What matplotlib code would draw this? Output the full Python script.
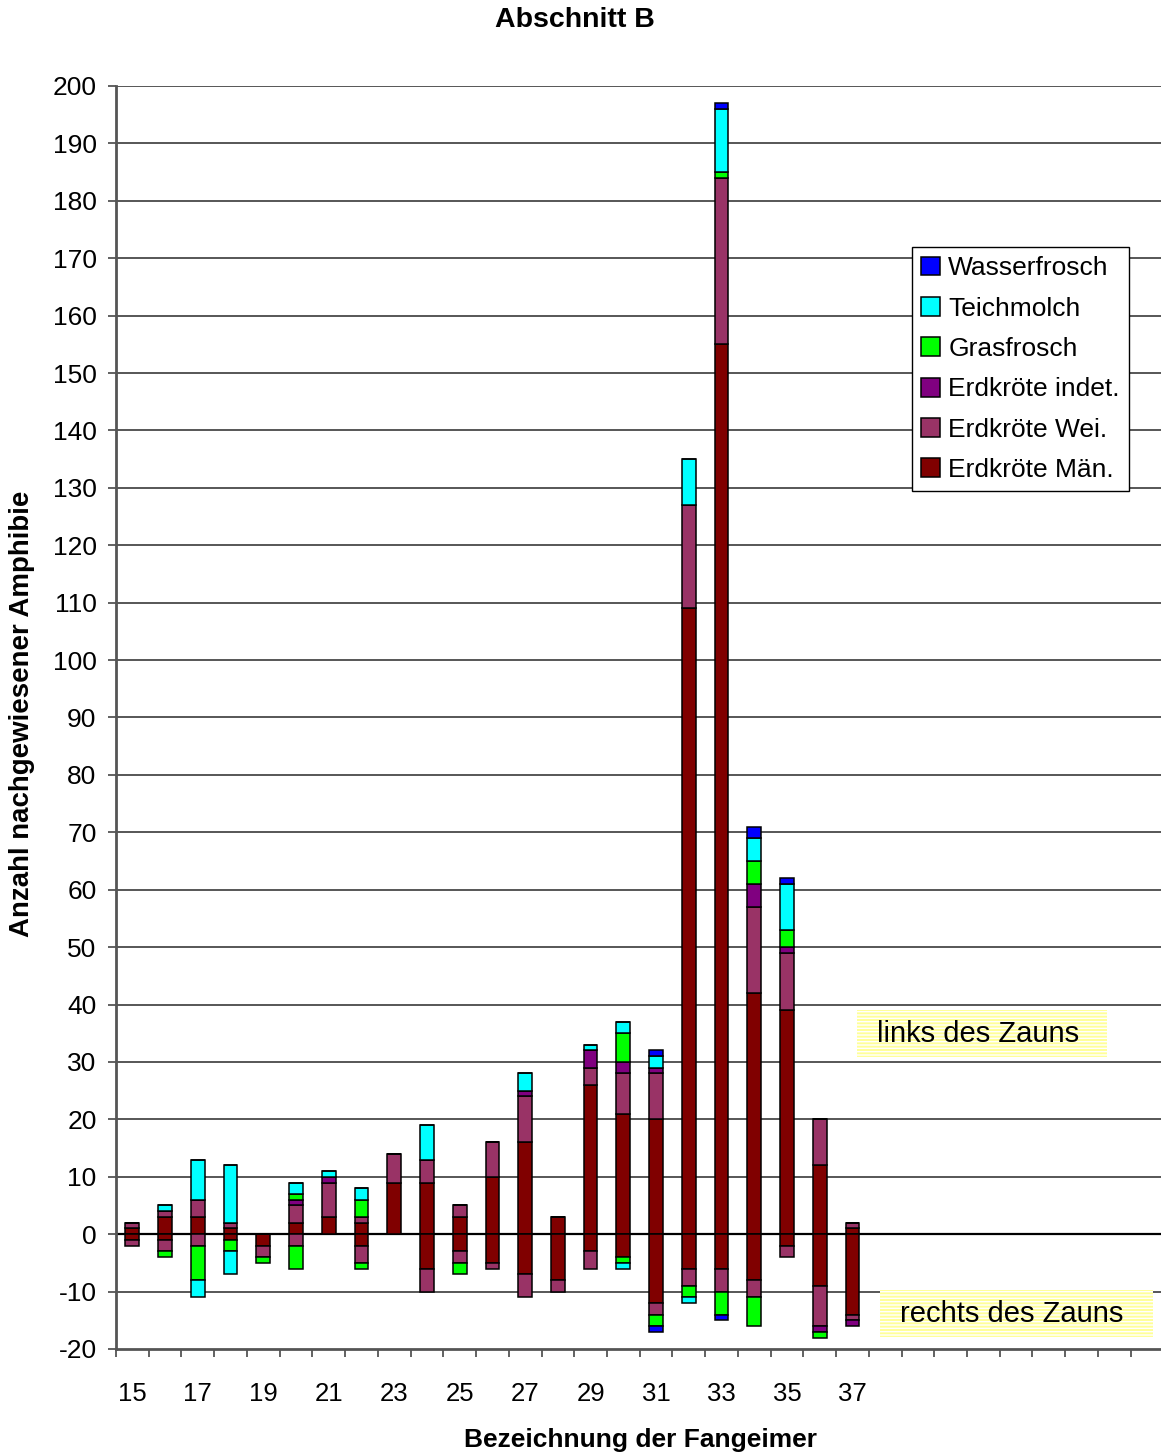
import numpy as np
import matplotlib.pyplot as plt
from matplotlib.patches import Rectangle

plt.rcParams['font.family'] = ['Liberation Sans', 'DejaVu Sans']
plt.rcParams['axes.unicode_minus'] = False

# Fangeimer 15..46 (only 15..37 were occupied)
eimer = list(range(15, 47))
n_used = 23

series = ['Erdkröte Män.', 'Erdkröte Wei.', 'Erdkröte indet.',
          'Grasfrosch', 'Teichmolch', 'Wasserfrosch']
colors = ['#800000', '#993366', '#800080', '#00ff00', '#00ffff', '#0000ff']

# links des Zauns (positive), buckets 15..37
links_maen  = [1, 3, 3, 1, 0, 2, 3, 2, 9, 9, 3, 10, 16, 3, 26, 21, 20, 109, 155, 42, 39, 12, 1]
links_wei   = [1, 1, 3, 1, 0, 3, 6, 1, 5, 4, 2, 6, 8, 0, 3, 7, 8, 18, 29, 15, 10, 8, 1]
links_indet = [0, 0, 0, 0, 0, 1, 1, 0, 0, 0, 0, 0, 1, 0, 3, 2, 1, 0, 0, 4, 1, 0, 0]
links_gras  = [0, 0, 0, 0, 0, 1, 0, 3, 0, 0, 0, 0, 0, 0, 0, 5, 0, 0, 1, 4, 3, 0, 0]
links_teich = [0, 1, 7, 10, 0, 2, 1, 2, 0, 6, 0, 0, 3, 0, 1, 2, 2, 8, 11, 4, 8, 0, 0]
links_wasser = [0, 0, 0, 0, 0, 0, 0, 0, 0, 0, 0, 0, 0, 0, 0, 0, 1, 0, 1, 2, 1, 0, 0]

# rechts des Zauns (drawn downward), buckets 15..37
rechts_maen  = [1, 1, 0, 1, 2, 0, 0, 2, 0, 6, 3, 5, 7, 8, 3, 4, 12, 6, 6, 8, 2, 9, 14]
rechts_wei   = [1, 2, 2, 0, 2, 2, 0, 3, 0, 4, 2, 1, 4, 2, 3, 0, 2, 3, 4, 3, 2, 7, 1]
rechts_indet = [0, 0, 0, 0, 0, 0, 0, 0, 0, 0, 0, 0, 0, 0, 0, 0, 0, 0, 0, 0, 0, 1, 1]
rechts_gras  = [0, 1, 6, 2, 1, 4, 0, 1, 0, 0, 2, 0, 0, 0, 0, 1, 2, 2, 4, 5, 0, 1, 0]
rechts_teich = [0, 0, 3, 4, 0, 0, 0, 0, 0, 0, 0, 0, 0, 0, 0, 1, 0, 1, 0, 0, 0, 0, 0]
rechts_wasser = [0, 0, 0, 0, 0, 0, 0, 0, 0, 0, 0, 0, 0, 0, 0, 0, 1, 0, 1, 0, 0, 0, 0]

links = [links_maen, links_wei, links_indet, links_gras, links_teich, links_wasser]
rechts = [rechts_maen, rechts_wei, rechts_indet, rechts_gras, rechts_teich, rechts_wasser]

W, H = 1161, 1453
fig = plt.figure(figsize=(W / 100, H / 100), dpi=100)
ax = fig.add_axes([116 / W, 1 - 1349 / H, (1163.4 - 116) / W, (1349 - 86) / H])

x = np.array(eimer[:n_used])
bw = 0.42
up = np.zeros(n_used)
down = np.zeros(n_used)
bars = []
for vals_l, vals_r, name, c in zip(links, rechts, series, colors):
    vl = np.array(vals_l, dtype=float)
    vr = np.array(vals_r, dtype=float)
    b = ax.bar(x, vl, bw, bottom=up, color=c, edgecolor='black', linewidth=1.1,
               label=name, zorder=3)
    ax.bar(x[vr > 0], -vr[vr > 0], bw, bottom=-down[vr > 0], color=c,
           edgecolor='black', linewidth=1.1, zorder=3)
    up += vl
    down += vr
    bars.append(b)

ax.set_xlim(14.5, 46.5)
ax.set_ylim(-20, 200)

# gridlines and axes
for v in range(-10, 201, 10):
    ax.axhline(v, color='black' if v == 0 else '#3a3a3a',
               lw=1.6 if v == 0 else 1.2, zorder=1)
for s in ['top', 'right']:
    ax.spines[s].set_visible(False)
for s in ['left', 'bottom']:
    ax.spines[s].set_color('#555555')
    ax.spines[s].set_linewidth(2)

ax.set_yticks(range(-20, 201, 10))
ax.tick_params(axis='y', direction='out', length=6, width=1.3, color='#555555',
               labelsize=19, pad=8)
ax.set_xticks(np.arange(14.5, 46.6, 1))
ax.set_xticklabels([])
ax.tick_params(axis='x', which='major', direction='out', length=6, width=1.3,
               color='#555555')
ax.set_xticks(range(15, 38, 2), minor=True)
ax.set_xticklabels([str(v) for v in range(15, 38, 2)], minor=True)
ax.tick_params(axis='x', which='minor', length=0, labelsize=18.5, pad=24)

fig.text(575 / W, 1 - 20 / H, 'Abschnitt B', ha='center', va='center',
         fontsize=20.5, fontweight='bold')
fig.text(22 / W, 1 - 714 / H, 'Anzahl nachgewiesener Amphibie', ha='center',
         va='center', rotation=90, fontsize=19.9, fontweight='bold')
fig.text(640 / W, 1 - 1440 / H, 'Bezeichnung der Fangeimer', ha='center',
         va='center', fontsize=19, fontweight='bold')

# legend, top entry first
handles = bars[::-1]
leg = ax.legend(handles, [h.get_label() for h in handles],
                loc='upper left', bbox_to_anchor=(912 / W, 1 - 247 / H),
                bbox_transform=fig.transFigure, fontsize=19, frameon=True,
                fancybox=False, handlelength=0.72, handleheight=0.72,
                handletextpad=0.3, labelspacing=0.62, borderpad=0.35,
                borderaxespad=0, framealpha=1)
leg.get_frame().set_edgecolor('black')
leg.get_frame().set_linewidth(1.0)
for p in leg.get_patches():
    p.set_linewidth(1.1)

# yellow note boxes
for (x0, y0, x1, y1, tx, txt) in [(857, 1010, 1107, 1057, 877, 'links des Zauns'),
                                  (880, 1290, 1153, 1337, 900, 'rechts des Zauns')]:
    fig.patches.append(Rectangle((x0 / W, 1 - y1 / H), (x1 - x0) / W, (y1 - y0) / H,
                                 transform=fig.transFigure, facecolor='#ffff99',
                                 edgecolor='white', hatch='-----', linewidth=0,
                                 zorder=5))
    fig.text(tx / W, 1 - (y0 + y1) / 2 / H, txt, ha='left', va='center',
             fontsize=21, zorder=6)

fig.savefig('out.png', dpi=100)
